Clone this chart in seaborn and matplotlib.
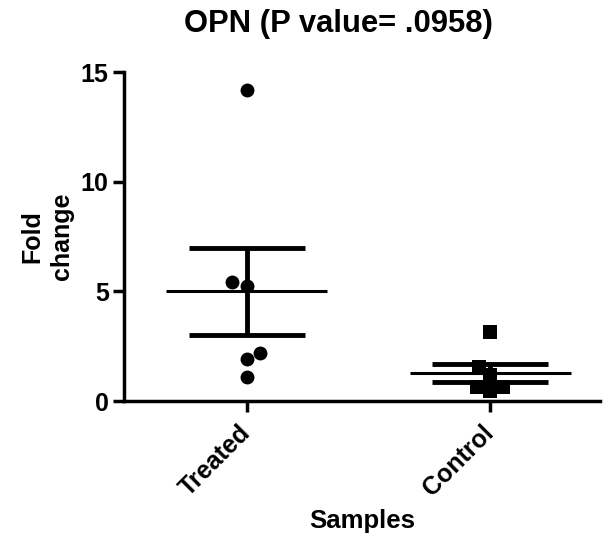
import numpy as np
import pandas as pd
import matplotlib
matplotlib.use("Agg")
import matplotlib.pyplot as plt
import seaborn as sns

# ---- data ----
categories = ["Treated", "Control"]
treated_values = [14.2, 5.26, 5.41, 2.17, 1.92, 1.11]
control_values = [3.16, 1.55, 1.2, 0.65, 0.65, 0.45]
y_ticks = [0, 5, 10, 15]
title_text = "OPN (P value= .0958)"
x_label = "Samples"
y_label = "Fold\nchange"

df = pd.DataFrame({
    "group": ["Treated"] * len(treated_values) + ["Control"] * len(control_values),
    "value": treated_values + control_values,
})

sns.set_style("white")
plt.rcParams["font.family"] = ["Liberation Sans", "DejaVu Sans"]
plt.rcParams["font.weight"] = "bold"
for k in ["text.color", "axes.labelcolor", "xtick.color", "ytick.color", "axes.edgecolor"]:
    plt.rcParams[k] = "black"

fig = plt.figure(figsize=(6.03, 5.39), dpi=100)
ax = fig.add_axes([0.2056, 0.256, 0.789, 0.610])

sns.swarmplot(data=df[df.group == "Treated"], x="group", y="value", order=categories,
              color="black", marker="o", size=10, ax=ax, clip_on=False)
sns.swarmplot(data=df[df.group == "Control"], x="group", y="value", order=categories,
              color="black", marker="s", size=9.5, ax=ax, clip_on=False)

# mean and SEM
stats = df.groupby("group")["value"].agg(["mean", "sem"]).reindex(categories)
for i, cat in enumerate(categories):
    m = stats.loc[cat, "mean"]
    s = stats.loc[cat, "sem"]
    ax.hlines(m, i - 0.33, i + 0.33, color="black", lw=2.2, zorder=3)
    ax.errorbar(i, m, yerr=s, color="black", elinewidth=3.5, capsize=42,
                capthick=3.5, fmt="none", zorder=3)

ax.set_xlim(-0.503, 1.45)
ax.set_ylim(0, 15)
ax.set_yticks(y_ticks)
ax.set_yticklabels([str(t) for t in y_ticks], fontsize=18, fontweight="bold")
ax.set_xticks(range(len(categories)))
ax.set_xticklabels(categories, fontsize=18, fontweight="bold", rotation=45,
                   ha="right", va="center", rotation_mode="anchor")

for side in ["top", "right"]:
    ax.spines[side].set_visible(False)
for side in ["left", "bottom"]:
    ax.spines[side].set_linewidth(2.5)
    ax.spines[side].set_color("black")
ax.tick_params(axis="y", direction="out", length=8, width=2.5, color="black",
               left=True, pad=3)
ax.tick_params(axis="x", direction="out", length=8, width=2.5, color="black",
               bottom=True, pad=12)

ax.set_xlabel(x_label, fontsize=18.5, fontweight="bold", labelpad=6)
ax.set_ylabel(y_label, fontsize=18, fontweight="bold", linespacing=1.3)
ax.yaxis.set_label_coords(-0.105, 0.5)
ax.set_title(title_text, fontsize=22.3, fontweight="bold", pad=29, x=0.45)

fig.savefig("out.png", dpi=100)
